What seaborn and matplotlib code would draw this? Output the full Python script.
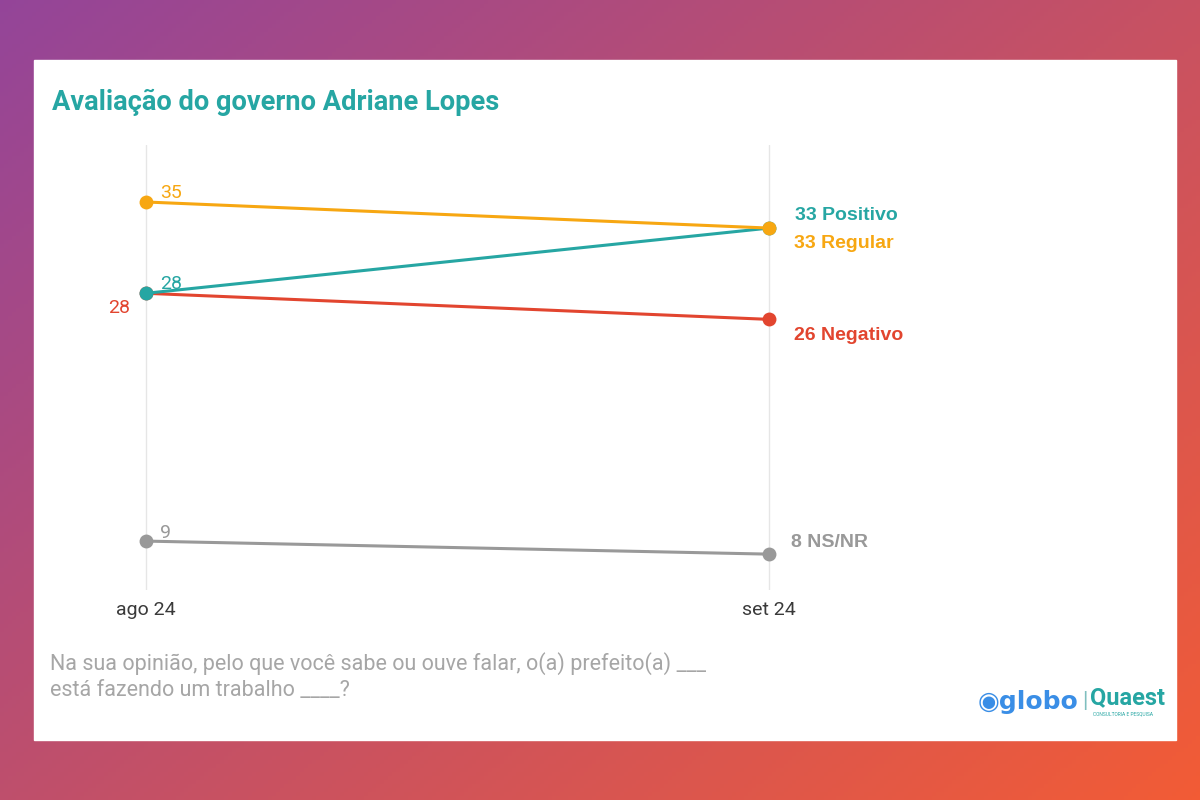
import numpy as np
import pandas as pd
import matplotlib.pyplot as plt
import seaborn as sns

# data
periods = ['ago 24', 'set 24']
series = ['Positivo', 'Regular', 'Negativo', 'NS/NR']
positivo = [28, 33]
regular = [35, 33]
negativo = [28, 26]
nsnr = [9, 8]
colors = {'Positivo': '#26a6a3', 'Regular': '#f7a712', 'Negativo': '#e2452f', 'NS/NR': '#999999'}

df = pd.DataFrame({
    'periodo': periods * 4,
    'x': [0, 1] * 4,
    'serie': np.repeat(series, 2),
    'valor': positivo + regular + negativo + nsnr,
})

sns.set_style('white')
plt.rcParams['font.family'] = ['Roboto', 'DejaVu Sans']

fig = plt.figure(figsize=(12, 8), dpi=100)

# gradient background
bg = fig.add_axes([0, 0, 1, 1])
gx, gy = np.meshgrid(np.linspace(0, 1, 300), np.linspace(0, 1, 200))
t = np.clip(0.55 * gx + 0.45 * gy, 0, 1)
c0 = np.array([0.58, 0.27, 0.60])
c1 = np.array([0.95, 0.36, 0.21])
img = c0[None, None, :] * (1 - t[..., None]) + c1[None, None, :] * t[..., None]
bg.imshow(img, aspect='auto', extent=[0, 1, 0, 1])
# white card
bg.add_patch(plt.Rectangle((34 / 1200, 1 - 740 / 800), 1142 / 1200, 680 / 800,
                           color='white', zorder=2))
bg.set_xlim(0, 1)
bg.set_ylim(0, 1)
bg.axis('off')

# plot area
ax = fig.add_axes([100 / 1200, 1 - 590 / 800, 900 / 1200, 445 / 800])
ax.set_facecolor('none')
sns.lineplot(data=df, x='x', y='valor', hue='serie', palette=colors, ax=ax,
             hue_order=['NS/NR', 'Negativo', 'Positivo', 'Regular'],
             marker='o', markersize=10, markeredgewidth=0, linewidth=2.2,
             legend=False, zorder=3)
ax.set_xlim(-0.0738, 1.3708)
ax.set_ylim(5.25, 39.37)
for xv in [0, 1]:
    ax.axvline(xv, color='#e6e6e6', linewidth=1, zorder=1)
ax.set_xticks([0, 1])
ax.set_xticklabels(periods, fontsize=14, color='#3a3a3a')
ax.tick_params(axis='x', length=0, pad=8)
ax.set_yticks([])
ax.set_xlabel('')
ax.set_ylabel('')
for s in ax.spines.values():
    s.set_visible(False)

# start labels
ax.annotate(str(regular[0]), (0, regular[0]), xytext=(10, 3), textcoords='offset points',
            color=colors['Regular'], fontsize=14)
ax.annotate(str(positivo[0]), (0, positivo[0]), xytext=(10, 3), textcoords='offset points',
            color=colors['Positivo'], fontsize=14)
ax.annotate(str(negativo[0]), (0, negativo[0]), xytext=(-27, -14), textcoords='offset points',
            color=colors['Negativo'], fontsize=14)
ax.annotate(str(nsnr[0]), (0, nsnr[0]), xytext=(10, 2), textcoords='offset points',
            color=colors['NS/NR'], fontsize=14)

# end labels
ax.annotate(f'{positivo[1]} Positivo', (1, positivo[1]), xytext=(19, 6), textcoords='offset points',
            color=colors['Positivo'], fontsize=14, fontweight='bold', family=['Liberation Sans'])
ax.annotate(f'{regular[1]} Regular', (1, regular[1]), xytext=(18, -14), textcoords='offset points',
            color=colors['Regular'], fontsize=14, fontweight='bold', family=['Liberation Sans'])
ax.annotate(f'{negativo[1]} Negativo', (1, negativo[1]), xytext=(18, -15), textcoords='offset points',
            color=colors['Negativo'], fontsize=14, fontweight='bold', family=['Liberation Sans'])
ax.annotate(f'{nsnr[1]} NS/NR', (1, nsnr[1]), xytext=(16, 5), textcoords='offset points',
            color=colors['NS/NR'], fontsize=14, fontweight='bold', family=['Liberation Sans'])

# title and notes
fig.text(52 / 1200, 1 - 102 / 800, 'Avaliação do governo Adriane Lopes', fontsize=19.6,
         fontweight='bold', color='#26a6a3', va='center')
fig.text(50 / 1200, 1 - 664 / 800, 'Na sua opinião, pelo que você sabe ou ouve falar, o(a) prefeito(a) ___',
         fontsize=15.5, color='#a6a6a6', va='center')
fig.text(50 / 1200, 1 - 690 / 800, 'está fazendo um trabalho ____?',
         fontsize=15.5, color='#a6a6a6', va='center')

# logos as text
fig.text(978 / 1200, 1 - 702 / 800, '◉globo', fontsize=18, fontweight='bold',
         color='#3a8ee6', va='center', family=['DejaVu Sans'])
fig.text(1082 / 1200, 1 - 702 / 800, '|', fontsize=16, color='#7fbfbf', va='center')
fig.text(1090 / 1200, 1 - 698 / 800, 'Quaest', fontsize=17, fontweight='bold',
         color='#26a6a3', va='center')
fig.text(1093 / 1200, 1 - 714 / 800, 'CONSULTORIA E PESQUISA', fontsize=3.5,
         color='#26a6a3', va='center')

fig.savefig('out.png', dpi=100)
